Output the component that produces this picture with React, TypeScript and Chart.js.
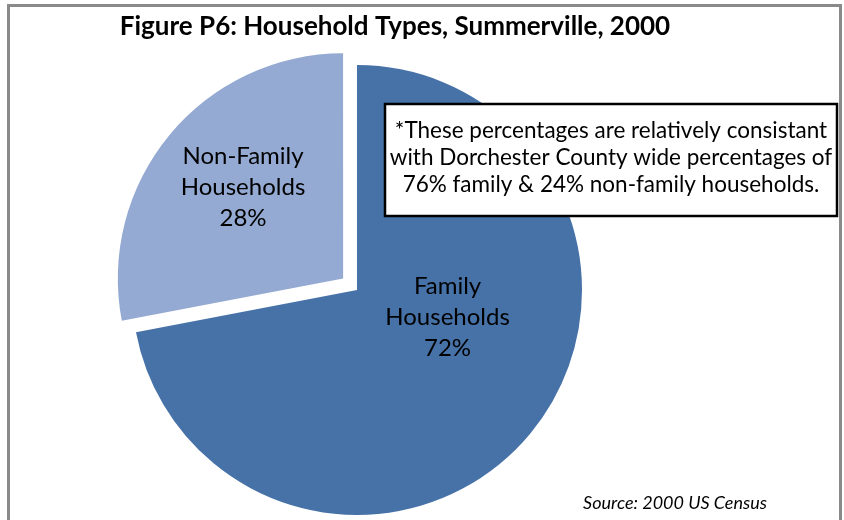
import React, { useEffect, useRef } from "react";
import { Chart, registerables } from "chart.js";

Chart.register(...registerables);

const categories = ["Family Households", "Non-Family Households"];
const labelLines = [["Family", "Households"], ["Non-Family", "Households"]];
const values = [72, 28];
const colors = ["#4672A8", "#94AAD2"];
const titleText = "Figure P6: Household Types, Summerville, 2000";
const noteLines = [
  "*These percentages are relatively consistant",
  "with Dorchester County wide percentages of",
  "76% family & 24% non-family households.",
];
const sourceText = "Source: 2000 US Census";

const FONT = "Lato, 'Open Sans', sans-serif";

const overlayPlugin = {
  id: "overlay",
  afterDraw(chart: any) {
    const ctx = chart.ctx as CanvasRenderingContext2D;
    const meta = chart.getDatasetMeta(0);
    const data = chart.data.datasets[0].data as number[];
    const total = data.reduce((a, b) => a + b, 0);
    // label placement tweaks (angle delta in degrees, radius fraction)
    const place = [
      { dAng: -23, f: 0.42 },
      { dAng: 2.7, f: 0.6 },
    ];
    ctx.save();
    ctx.fillStyle = "#000";
    ctx.textAlign = "center";
    ctx.textBaseline = "middle";
    ctx.font = `24px ${FONT}`;
    meta.data.forEach((arc: any, i: number) => {
      const p = arc.getProps(["x", "y", "startAngle", "endAngle", "outerRadius"], true);
      const mid = (p.startAngle + p.endAngle) / 2;
      const off = (arc.options.offset || 0) / 4;
      const circ = p.endAngle - p.startAngle;
      const fix = 1 - Math.sin(Math.min(Math.PI, circ));
      const t = off * (1 + fix);
      const cx = p.x + Math.cos(mid) * t;
      const cy = p.y + Math.sin(mid) * t;
      const a = mid + (place[i].dAng * Math.PI) / 180;
      const r = p.outerRadius * place[i].f;
      const lx = cx + Math.cos(a) * r;
      const ly = cy + Math.sin(a) * r;
      const pct = Math.round((data[i] / total) * 100) + "%";
      const lines = [...labelLines[i], pct];
      const lh = 31;
      lines.forEach((ln, k) => {
        ctx.fillText(ln, lx, ly + (k - (lines.length - 1) / 2) * lh);
      });
    });

    // title
    ctx.font = `bold 26px ${FONT}`;
    ctx.fillText(titleText, 395, 27);

    // note box
    ctx.fillStyle = "#fff";
    ctx.fillRect(385, 104, 452, 112);
    ctx.strokeStyle = "#000";
    ctx.lineWidth = 2.5;
    ctx.strokeRect(385, 104, 452, 112);
    ctx.fillStyle = "#000";
    ctx.font = `22.5px ${FONT}`;
    noteLines.forEach((ln, k) => {
      ctx.fillText(ln, 611, 131 + k * 27);
    });

    // source
    ctx.font = `italic 18px ${FONT}`;
    ctx.fillText(sourceText, 675, 503);
    ctx.restore();
  },
};

export default function App() {
  const ref = useRef<HTMLCanvasElement | null>(null);
  useEffect(() => {
    document.body.style.margin = "0";
    const chart = new Chart(ref.current as HTMLCanvasElement, {
      type: "pie",
      data: {
        labels: categories,
        datasets: [
          {
            data: values,
            backgroundColor: colors,
            borderWidth: 0,
            offset: [0, 72],
            clip: false as any,
          } as any,
        ],
      },
      options: {
        animation: false,
        responsive: false,
        radius: 225,
        layout: { padding: { left: 127, right: 257, top: 60, bottom: 0 } },
        plugins: {
          legend: { display: false },
          tooltip: { enabled: false },
          title: { display: false },
        },
      } as any,
      plugins: [overlayPlugin],
    });
    return () => chart.destroy();
  }, []);
  return (
    <div style={{ position: "relative", width: 844, height: 520, background: "#fff", overflow: "hidden" }}>
      <canvas ref={ref} width={844} height={520} style={{ position: "absolute", left: 0, top: 0 }} />
      <div
        style={{
          position: "absolute",
          left: 7,
          top: 4,
          width: 829,
          height: 530,
          border: "3px solid #8a8a8a",
          borderBottom: "none",
          pointerEvents: "none",
        }}
      />
    </div>
  );
}
